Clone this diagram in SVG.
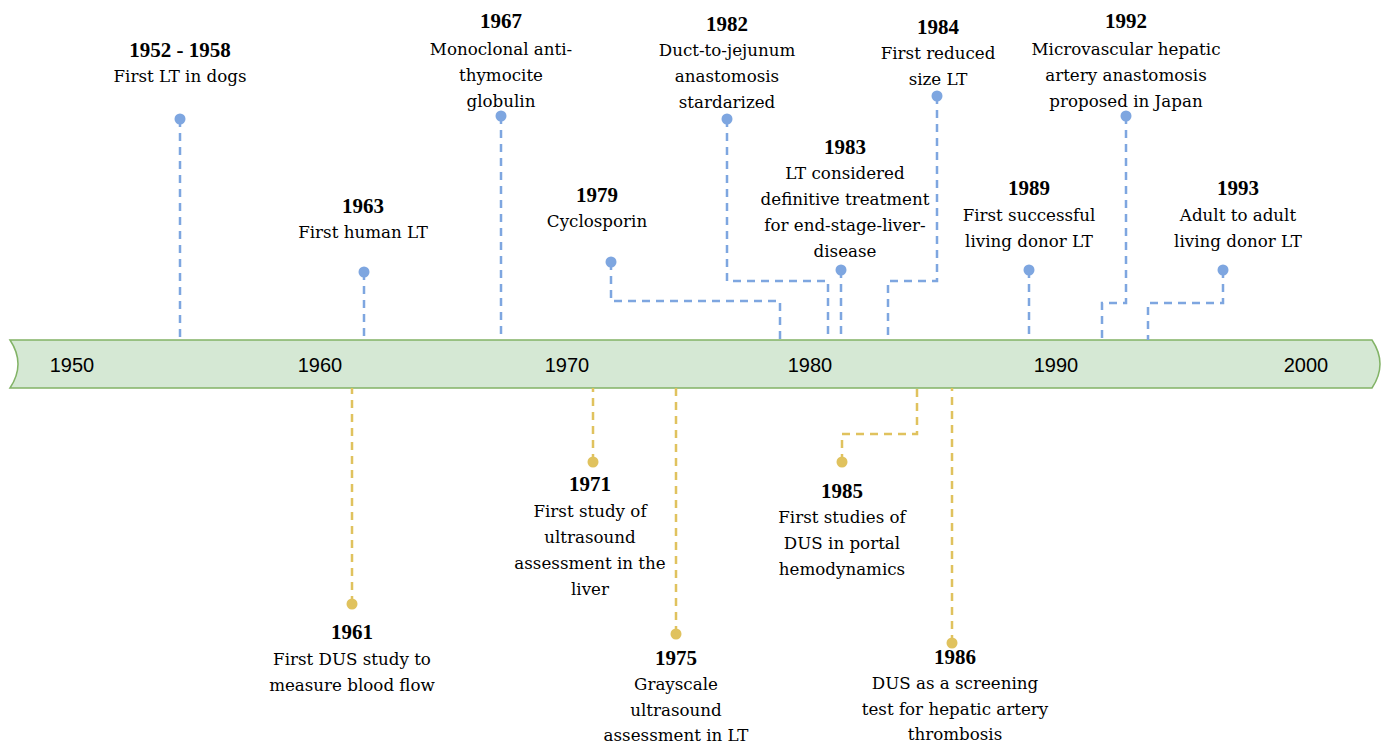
<svg xmlns="http://www.w3.org/2000/svg" width="1385" height="745" viewBox="0 0 1385 745">
<style>
.t{font-family:"DejaVu Serif","Liberation Serif",serif;font-size:16.7px;fill:#000;text-anchor:middle}
.b{font-family:"Liberation Serif","DejaVu Serif",serif;font-size:21px;font-weight:bold}
.y{font-family:"Liberation Sans",Arial,sans-serif;font-size:20px;fill:#000;text-anchor:middle}
.bl{fill:none;stroke:#7ea6e0;stroke-width:2.5;stroke-dasharray:8 6}
.yl{fill:none;stroke:#e0c25e;stroke-width:2.5;stroke-dasharray:8 6}
.bd{fill:#7ea6e0}
.yd{fill:#e0c25e}
</style>
<rect width="1385" height="745" fill="#fff"/>
<g id="band">
<path d="M10,340 L1372,340 Q1388,364 1372,388 L10,388 Q26,364 10,340 Z" fill="#d5e8d4" stroke="#82b366" stroke-width="1.5"/>
<text class="y" x="72" y="372">1950</text>
<text class="y" x="320" y="372">1960</text>
<text class="y" x="567" y="372">1970</text>
<text class="y" x="810" y="372">1980</text>
<text class="y" x="1056" y="372">1990</text>
<text class="y" x="1306" y="372">2000</text>
</g>
<g id="connectors">
<path class="bl" d="M180,119 V340"/>
<path class="bl" d="M364,272 V340"/>
<path class="bl" d="M501,116 V340"/>
<path class="bl" d="M727,119 V281 H828 V340"/>
<path class="bl" d="M611,262 V301 H780 V340"/>
<path class="bl" d="M841,270 V340"/>
<path class="bl" d="M937,96 V281 H888 V340"/>
<path class="bl" d="M1126,116 V303 H1102 V340"/>
<path class="bl" d="M1029,270 V340"/>
<path class="bl" d="M1223,270 V303 H1148 V340"/>
<path class="yl" d="M352,604 V388"/>
<path class="yl" d="M593,462 V388"/>
<path class="yl" d="M676,634 V388"/>
<path class="yl" d="M842,462 V434 H917 V388"/>
<path class="yl" d="M952,643 V388"/>
<g class="bd">
<circle cx="180" cy="119" r="5.5"/>
<circle cx="364" cy="272" r="5.5"/>
<circle cx="501" cy="116" r="5.5"/>
<circle cx="727" cy="119" r="5.5"/>
<circle cx="611" cy="262" r="5.5"/>
<circle cx="841" cy="270" r="5.5"/>
<circle cx="937" cy="96" r="5.5"/>
<circle cx="1126" cy="116" r="5.5"/>
<circle cx="1029" cy="270" r="5.5"/>
<circle cx="1223" cy="270" r="5.5"/>
</g>
<g class="yd">
<circle cx="352" cy="604" r="5.5"/>
<circle cx="593" cy="462" r="5.5"/>
<circle cx="676" cy="634" r="5.5"/>
<circle cx="842" cy="462" r="5.5"/>
<circle cx="952" cy="643" r="5.5"/>
</g>
</g>
<g id="e1952">
<text class="t b" x="180" y="57">1952 - 1958</text>
<text class="t" x="180" y="82">First LT in dogs</text>
</g>
<g id="e1963">
<text class="t b" x="363" y="213">1963</text>
<text class="t" x="363" y="238">First human LT</text>
</g>
<g id="e1967">
<text class="t b" x="501" y="28">1967</text>
<text class="t" x="501" y="55">Monoclonal anti-</text>
<text class="t" x="501" y="81">thymocite</text>
<text class="t" x="501" y="107">globulin</text>
</g>
<g id="e1982">
<text class="t b" x="727" y="31">1982</text>
<text class="t" x="727" y="56">Duct-to-jejunum</text>
<text class="t" x="727" y="82">anastomosis</text>
<text class="t" x="727" y="108">stardarized</text>
</g>
<g id="e1979">
<text class="t b" x="597" y="202">1979</text>
<text class="t" x="597" y="227">Cyclosporin</text>
</g>
<g id="e1983">
<text class="t b" x="845" y="154">1983</text>
<text class="t" x="845" y="179">LT considered</text>
<text class="t" x="845" y="205">definitive treatment</text>
<text class="t" x="845" y="231">for end-stage-liver-</text>
<text class="t" x="845" y="257">disease</text>
</g>
<g id="e1984">
<text class="t b" x="938" y="34">1984</text>
<text class="t" x="938" y="59">First reduced</text>
<text class="t" x="938" y="85">size LT</text>
</g>
<g id="e1992">
<text class="t b" x="1126" y="28">1992</text>
<text class="t" x="1126" y="55">Microvascular hepatic</text>
<text class="t" x="1126" y="81">artery anastomosis</text>
<text class="t" x="1126" y="107">proposed in Japan</text>
</g>
<g id="e1989">
<text class="t b" x="1029" y="195">1989</text>
<text class="t" x="1029" y="221">First successful</text>
<text class="t" x="1029" y="247">living donor LT</text>
</g>
<g id="e1993">
<text class="t b" x="1238" y="195">1993</text>
<text class="t" x="1238" y="221">Adult to adult</text>
<text class="t" x="1238" y="247">living donor LT</text>
</g>
<g id="e1961">
<text class="t b" x="352" y="639">1961</text>
<text class="t" x="352" y="665">First DUS study to</text>
<text class="t" x="352" y="691">measure blood flow</text>
</g>
<g id="e1971">
<text class="t b" x="590" y="491">1971</text>
<text class="t" x="590" y="517">First study of</text>
<text class="t" x="590" y="543">ultrasound</text>
<text class="t" x="590" y="569">assessment in the</text>
<text class="t" x="590" y="595">liver</text>
</g>
<g id="e1975">
<text class="t b" x="676" y="665">1975</text>
<text class="t" x="676" y="690">Grayscale</text>
<text class="t" x="676" y="716">ultrasound</text>
<text class="t" x="676" y="741">assessment in LT</text>
</g>
<g id="e1985">
<text class="t b" x="842" y="498">1985</text>
<text class="t" x="842" y="523">First studies of</text>
<text class="t" x="842" y="549">DUS in portal</text>
<text class="t" x="842" y="575">hemodynamics</text>
</g>
<g id="e1986">
<text class="t b" x="955" y="664">1986</text>
<text class="t" x="955" y="689">DUS as a screening</text>
<text class="t" x="955" y="715">test for hepatic artery</text>
<text class="t" x="955" y="740">thrombosis</text>
</g>
</svg>
